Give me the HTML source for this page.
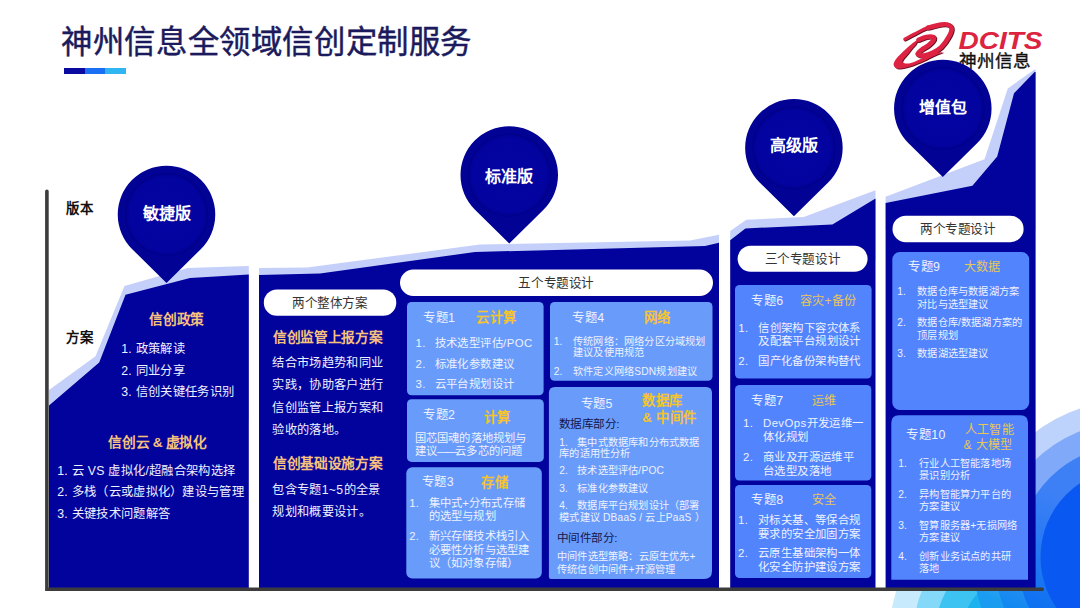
<!DOCTYPE html>
<html lang="zh-CN">
<head>
<meta charset="utf-8">
<title>神州信息全领域信创定制服务</title>
<style>
html,body{margin:0;padding:0;background:#fff;}
body{width:1080px;height:608px;position:relative;overflow:hidden;font-family:"Liberation Sans",sans-serif;}
.t{position:absolute;white-space:nowrap;margin:0;padding:0;}
</style>
</head>
<body>
<svg width="1080" height="608" viewBox="0 0 1080 608" style="position:absolute;left:0;top:0">
<defs>
<radialGradient id="pg" cx="50%" cy="50%" r="50%"><stop offset="0" stop-color="#0404a2"/><stop offset="0.9" stop-color="#0303a0"/><stop offset="1" stop-color="#020298"/></radialGradient>
</defs>
<circle cx="1016" cy="630" r="126" fill="#c7ebfc"/>
<circle cx="1016" cy="630" r="102" fill="#84d9f8"/>
<circle cx="1016" cy="630" r="80" fill="#3cc3f2"/>
<circle cx="1016" cy="630" r="53" fill="#1cb2f0"/>
<linearGradient id="rg0" gradientUnits="userSpaceOnUse" x1="1062" y1="440" x2="995" y2="600"><stop offset="0" stop-color="#bdd3fb"/><stop offset="0.3" stop-color="#bdd3fb"/><stop offset="1" stop-color="#1a9cf0"/></linearGradient>
<circle cx="1129.1" cy="557" r="156.3" fill="url(#rg0)"/>
<linearGradient id="rg1" gradientUnits="userSpaceOnUse" x1="1062" y1="440" x2="995" y2="600"><stop offset="0" stop-color="#80aaf9"/><stop offset="0.3" stop-color="#80aaf9"/><stop offset="1" stop-color="#1088f0"/></linearGradient>
<circle cx="1129.1" cy="557" r="135" fill="url(#rg1)"/>
<linearGradient id="rg2" gradientUnits="userSpaceOnUse" x1="1062" y1="440" x2="995" y2="600"><stop offset="0" stop-color="#3d80f6"/><stop offset="0.3" stop-color="#3d80f6"/><stop offset="1" stop-color="#0a70f0"/></linearGradient>
<circle cx="1129.1" cy="557" r="112.1" fill="url(#rg2)"/>
<circle cx="1129.1" cy="557" r="88.6" fill="#0a58f2"/>
<path fill="#c4d0fa" d="M49,390 L95.5,356.3 L124.5,286 L187.5,268 L248.8,266 L248.8,420 L49,420 Z"/>
<path fill="#02029c" d="M49,405.6 L99.2,362.5 L125.5,294.7 L190,278 L248.8,274.4 L248.8,588 L49,588 Z"/>
<path fill="#c4d0fa" d="M259,268 L307,267.5 L480,244.5 L690,240.5 L719,234.8 L719,300 L259,300 Z"/>
<path fill="#02029c" d="M259,275 L320,273.5 L475,252 L705,246 L719,242.8 L719,588 L259,588 Z"/>
<path fill="#c4d0fa" d="M730.2,231 L746.3,219.8 L803.7,217 L875.5,190.2 L875.5,260 L730.2,260 Z"/>
<path fill="#02029c" d="M730.2,240.2 L745.4,228.5 L832.4,224.4 L875.5,198.5 L875.5,588 L730.2,588 Z"/>
<path fill="#c4d0fa" d="M885.6,196.8 L984.5,159.3 L1007.8,88.4 L1034.6,69.4 L1035.6,69.4 L1035.6,230 L885.6,230 Z"/>
<path fill="#02029c" d="M885.6,203 L972.4,185.8 L997.2,156.5 L1014,93.3 L1034.6,72 L1035.6,72 L1035.6,588 L885.6,588 Z"/>
<path d="M46.9,191.2 L46.9,589.2 L1042.2,589.2" fill="none" stroke="#3c3c3c" stroke-width="3.6" stroke-linecap="round" stroke-linejoin="miter"/>
<rect x="263.8" y="289.5" width="132.50" height="26.30" rx="13.15" fill="#fff"/>
<rect x="400" y="269.5" width="313.00" height="26.50" rx="13.25" fill="#fff"/>
<rect x="737.6" y="245.8" width="130.00" height="25.90" rx="12.95" fill="#fff"/>
<rect x="892.5" y="215.7" width="131.10" height="26.50" rx="13.25" fill="#fff"/>
<rect x="407" y="302" width="136.60" height="93.30" rx="4.5" fill="#699cfa"/>
<rect x="407" y="399.3" width="136.80" height="62.60" rx="4.5" fill="#699cfa"/>
<rect x="406.3" y="467.3" width="135.50" height="111.20" rx="6" fill="#699cfa"/>
<rect x="550" y="302" width="162.50" height="78.80" rx="4.5" fill="#699cfa"/>
<path d="M548.9,576.9 L548.9,393 Q548.9,387 554.9,387 L706,387 Q712,387 712,393 L712,570.9 Q712,578.9 704,578.9 L550.9,578.9 Q548.9,578.9 548.9,576.9 Z" fill="#699cfa"/>
<rect x="735" y="285" width="136.60" height="93.50" rx="4.5" fill="#5284fd"/>
<rect x="735" y="385" width="136.30" height="95.50" rx="4.5" fill="#5284fd"/>
<rect x="735" y="485" width="136.30" height="93.00" rx="4.5" fill="#5284fd"/>
<rect x="892.3" y="252" width="136.90" height="158.00" rx="7.5" fill="#5284fd"/>
<path d="M891.3,579.7 L891.3,422.8 Q891.3,415.3 898.8,415.3 L1020.5,415.3 Q1028,415.3 1028,422.8 L1028,579.7 Z" fill="#5284fd"/>
<g transform="translate(0.8,0.7)" fill="none" stroke="#5e0f20" stroke-linecap="round" stroke-linejoin="round"><path d="M918.50,39.90 C919.63,39.47 923.05,37.83 925.30,37.30 C927.55,36.77 930.55,36.38 932.00,36.70 C933.45,37.02 934.57,37.77 934.00,39.20 C933.43,40.63 930.57,43.62 928.60,45.30 C926.63,46.98 924.03,47.85 922.20,49.30 C920.37,50.75 917.38,52.95 917.60,54.00 C917.82,55.05 921.03,55.80 923.50,55.60 C925.97,55.40 929.43,54.22 932.40,52.80 C935.37,51.38 938.50,49.87 941.30,47.10 C944.10,44.33 947.48,39.35 949.20,36.20 C950.92,33.05 951.88,30.13 951.60,28.20 C951.32,26.27 949.22,25.20 947.50,24.60 C945.78,24.00 944.55,24.10 941.30,24.60 C938.05,25.10 930.22,27.10 928.00,27.60" stroke-width="4.7"/><path d="M941.30,24.60 C939.08,25.10 932.45,26.03 928.00,27.60 C923.55,29.17 918.47,32.07 914.60,34.00 C910.73,35.93 906.43,38.33 904.80,39.20" stroke-width="3.2"/><path d="M918.30,39.00 C917.10,39.90 912.98,42.90 911.10,44.40 C909.22,45.90 908.65,46.48 907.00,48.00 C905.35,49.52 903.12,51.55 901.20,53.50 C899.28,55.45 896.75,57.75 895.50,59.70 C894.25,61.65 893.17,63.68 893.70,65.20 C894.23,66.72 895.95,68.57 898.70,68.80 C901.45,69.03 906.07,67.85 910.20,66.60 C914.33,65.35 919.50,63.07 923.50,61.30 C927.50,59.53 930.82,57.55 934.20,56.00 C937.58,54.45 942.20,52.67 943.80,52.00 " stroke="none"/></g><path transform="translate(0.8,0.7)" d="M918.30,39.00 C917.10,39.90 912.98,42.90 911.10,44.40 C909.22,45.90 908.65,46.48 907.00,48.00 C905.35,49.52 903.12,51.55 901.20,53.50 C899.28,55.45 896.75,57.75 895.50,59.70 C894.25,61.65 893.17,63.68 893.70,65.20 C894.23,66.72 895.95,68.57 898.70,68.80 C901.45,69.03 906.07,67.85 910.20,66.60 C914.33,65.35 919.50,63.07 923.50,61.30 C927.50,59.53 930.82,57.55 934.20,56.00 C937.58,54.45 942.20,52.67 943.80,52.00 L943.80,52.00 C942.20,52.23 937.58,52.43 934.20,53.40 C930.82,54.37 926.77,56.42 923.50,57.80 C920.23,59.18 917.27,60.73 914.60,61.70 C911.93,62.67 909.47,63.47 907.50,63.60 C905.53,63.73 903.50,63.18 902.80,62.50 C902.10,61.82 902.37,61.00 903.30,59.50 C904.23,58.00 906.88,55.35 908.40,53.50 C909.92,51.65 911.13,49.92 912.40,48.40 C913.67,46.88 915.02,45.97 916.00,44.40 C916.98,42.83 917.92,39.90 918.30,39.00 Z" fill="#5e0f20"/><g transform="translate(0,0)" fill="none" stroke="#de2342" stroke-linecap="round" stroke-linejoin="round"><path d="M918.50,39.90 C919.63,39.47 923.05,37.83 925.30,37.30 C927.55,36.77 930.55,36.38 932.00,36.70 C933.45,37.02 934.57,37.77 934.00,39.20 C933.43,40.63 930.57,43.62 928.60,45.30 C926.63,46.98 924.03,47.85 922.20,49.30 C920.37,50.75 917.38,52.95 917.60,54.00 C917.82,55.05 921.03,55.80 923.50,55.60 C925.97,55.40 929.43,54.22 932.40,52.80 C935.37,51.38 938.50,49.87 941.30,47.10 C944.10,44.33 947.48,39.35 949.20,36.20 C950.92,33.05 951.88,30.13 951.60,28.20 C951.32,26.27 949.22,25.20 947.50,24.60 C945.78,24.00 944.55,24.10 941.30,24.60 C938.05,25.10 930.22,27.10 928.00,27.60" stroke-width="4.7"/><path d="M941.30,24.60 C939.08,25.10 932.45,26.03 928.00,27.60 C923.55,29.17 918.47,32.07 914.60,34.00 C910.73,35.93 906.43,38.33 904.80,39.20" stroke-width="3.2"/><path d="M918.30,39.00 C917.10,39.90 912.98,42.90 911.10,44.40 C909.22,45.90 908.65,46.48 907.00,48.00 C905.35,49.52 903.12,51.55 901.20,53.50 C899.28,55.45 896.75,57.75 895.50,59.70 C894.25,61.65 893.17,63.68 893.70,65.20 C894.23,66.72 895.95,68.57 898.70,68.80 C901.45,69.03 906.07,67.85 910.20,66.60 C914.33,65.35 919.50,63.07 923.50,61.30 C927.50,59.53 930.82,57.55 934.20,56.00 C937.58,54.45 942.20,52.67 943.80,52.00 " stroke="none"/></g><path transform="translate(0,0)" d="M918.30,39.00 C917.10,39.90 912.98,42.90 911.10,44.40 C909.22,45.90 908.65,46.48 907.00,48.00 C905.35,49.52 903.12,51.55 901.20,53.50 C899.28,55.45 896.75,57.75 895.50,59.70 C894.25,61.65 893.17,63.68 893.70,65.20 C894.23,66.72 895.95,68.57 898.70,68.80 C901.45,69.03 906.07,67.85 910.20,66.60 C914.33,65.35 919.50,63.07 923.50,61.30 C927.50,59.53 930.82,57.55 934.20,56.00 C937.58,54.45 942.20,52.67 943.80,52.00 L943.80,52.00 C942.20,52.23 937.58,52.43 934.20,53.40 C930.82,54.37 926.77,56.42 923.50,57.80 C920.23,59.18 917.27,60.73 914.60,61.70 C911.93,62.67 909.47,63.47 907.50,63.60 C905.53,63.73 903.50,63.18 902.80,62.50 C902.10,61.82 902.37,61.00 903.30,59.50 C904.23,58.00 906.88,55.35 908.40,53.50 C909.92,51.65 911.13,49.92 912.40,48.40 C913.67,46.88 915.02,45.97 916.00,44.40 C916.98,42.83 917.92,39.90 918.30,39.00 Z" fill="#de2342"/>
<text x="958.5" y="48.6" font-family="Liberation Sans, sans-serif" font-size="24.5" font-weight="700" font-style="italic" fill="#dc2340" textLength="84" lengthAdjust="spacingAndGlyphs">DCITS</text>
<text x="958.8" y="66.8" font-family="Liberation Sans, sans-serif" font-size="17.6" fill="#111" stroke="#111" stroke-width="0.35">神州信息</text>
<path d="M132.25,249.19 A48.75,48.75 0 1 1 200.75,249.19 L166.5,283.0 Z" fill="#020294"/><circle cx="166.5" cy="214.5" r="41.5" fill="#01018b"/><circle cx="166.5" cy="214.5" r="40" fill="url(#pg)"/>
<path d="M475.00,209.69 A48.75,48.75 0 1 1 543.50,209.69 L509.25,243.5 Z" fill="#020294"/><circle cx="509.25" cy="175" r="41.5" fill="#01018b"/><circle cx="509.25" cy="175" r="40" fill="url(#pg)"/>
<path d="M759.65,182.49 A48.75,48.75 0 1 1 828.15,182.49 L793.9,216.3 Z" fill="#020294"/><circle cx="793.9" cy="147.8" r="41.5" fill="#01018b"/><circle cx="793.9" cy="147.8" r="40" fill="url(#pg)"/>
<path d="M908.55,143.29 A48.75,48.75 0 1 1 977.05,143.29 L942.8,177.1 Z" fill="#020294"/><circle cx="942.8" cy="108.6" r="41.5" fill="#01018b"/><circle cx="942.8" cy="108.6" r="40" fill="url(#pg)"/>
</svg>
<div class="t" style="left:61.2px;top:22.6px;font-size:31.4px;letter-spacing:0.6px;line-height:40px;color:#1b1a5c;-webkit-text-stroke:0.45px #1b1a5c">神州信息全领域信创定制服务</div>
<div style="position:absolute;left:63.7px;top:67.5px;width:62.6px;height:6.8px;background:linear-gradient(90deg,#0a0aa0 0,#0a0aa0 33.3%,#1a6ff2 33.3%,#1a6ff2 66.6%,#2fb6f2 66.6%)"></div>
<div class="t" style="top:200px;font-size:13.4px;line-height:17px;color:#111;letter-spacing:0.45px;font-weight:700;left:66.2px;">版本</div>
<div class="t" style="top:329px;font-size:13.4px;line-height:17px;color:#111;letter-spacing:0.45px;font-weight:700;left:66.2px;">方案</div>
<div class="t" style="top:203px;font-size:16px;line-height:21px;color:#fff;font-weight:700;left:16.5px;width:300px;text-align:center;">敏捷版</div>
<div class="t" style="top:166px;font-size:16px;line-height:21px;color:#fff;font-weight:700;left:359.3px;width:300px;text-align:center;">标准版</div>
<div class="t" style="top:135px;font-size:16px;line-height:21px;color:#fff;font-weight:700;left:643.9px;width:300px;text-align:center;">高级版</div>
<div class="t" style="top:97px;font-size:16px;line-height:21px;color:#fff;font-weight:700;left:793.0px;width:300px;text-align:center;">增值包</div>
<div class="t" style="top:311px;font-size:13.7px;line-height:18px;color:#f7c27e;letter-spacing:-0.35px;font-weight:700;left:26.73px;width:300px;text-align:center;">信创政策</div>
<div class="t" style="top:341px;font-size:12.3px;line-height:16px;color:#eef1ff;letter-spacing:0.3px;left:121.2px;">1. 政策解读</div>
<div class="t" style="top:363px;font-size:12.3px;line-height:16px;color:#eef1ff;letter-spacing:0.3px;left:121.2px;">2. 同业分享</div>
<div class="t" style="top:384px;font-size:12.3px;line-height:16px;color:#eef1ff;letter-spacing:0.3px;left:121.2px;">3. 信创关键任务识别</div>
<div class="t" style="top:434px;font-size:13.7px;line-height:18px;color:#f7c27e;letter-spacing:-0.35px;font-weight:700;left:7.63px;width:300px;text-align:center;">信创云 &amp; 虚拟化</div>
<div class="t" style="top:463px;font-size:12.3px;line-height:16px;color:#eef1ff;letter-spacing:0.3px;left:57.2px;">1. 云 VS 虚拟化/超融合架构选择</div>
<div class="t" style="top:484px;font-size:12.3px;line-height:16px;color:#eef1ff;letter-spacing:0.3px;left:57.2px;">2. 多栈（云或虚拟化）建设与管理</div>
<div class="t" style="top:506px;font-size:12.3px;line-height:16px;color:#eef1ff;letter-spacing:0.3px;left:57.2px;">3. 关键技术问题解答</div>
<div class="t" style="top:295px;font-size:12.6px;line-height:16px;color:#333;letter-spacing:-0.4px;left:179.8px;width:300px;text-align:center;">两个整体方案</div>
<div class="t" style="top:329px;font-size:13.7px;line-height:18px;color:#f7c27e;letter-spacing:-0.35px;font-weight:700;left:273.0px;">信创监管上报方案</div>
<div class="t" style="top:355px;font-size:12.2px;line-height:16px;color:#eef1ff;letter-spacing:0.38px;left:272.2px;">结合市场趋势和同业</div>
<div class="t" style="top:377px;font-size:12.2px;line-height:16px;color:#eef1ff;letter-spacing:0.38px;left:272.2px;">实践，协助客户进行</div>
<div class="t" style="top:400px;font-size:12.2px;line-height:16px;color:#eef1ff;letter-spacing:0.38px;left:272.2px;">信创监管上报方案和</div>
<div class="t" style="top:422px;font-size:12.2px;line-height:16px;color:#eef1ff;letter-spacing:0.38px;left:272.2px;">验收的落地。</div>
<div class="t" style="top:455px;font-size:13.7px;line-height:18px;color:#f7c27e;letter-spacing:-0.35px;font-weight:700;left:273.0px;">信创基础设施方案</div>
<div class="t" style="top:482px;font-size:12.2px;line-height:16px;color:#eef1ff;letter-spacing:0.38px;left:272.2px;">包含专题1~5的全景</div>
<div class="t" style="top:504px;font-size:12.2px;line-height:16px;color:#eef1ff;letter-spacing:0.38px;left:272.2px;">规划和概要设计。</div>
<div class="t" style="top:275px;font-size:12.6px;line-height:16px;color:#333;letter-spacing:-0.4px;left:406.3px;width:300px;text-align:center;">五个专题设计</div>
<div class="t" style="top:310px;font-size:12.4px;line-height:16px;color:#eef1ff;letter-spacing:0.5px;left:423.0px;">专题1</div>
<div class="t" style="top:309px;font-size:13.4px;line-height:17px;color:#f6c42c;letter-spacing:0.45px;font-weight:700;left:476.2px;">云计算</div>
<div class="t" style="top:336px;font-size:11.4px;line-height:15px;color:#eef1ff;letter-spacing:0.4px;left:415.5px;">1.</div>
<div class="t" style="top:336px;font-size:11.4px;line-height:15px;color:#eef1ff;letter-spacing:0.4px;left:434.7px;">技术选型评估/POC</div>
<div class="t" style="top:357px;font-size:11.4px;line-height:15px;color:#eef1ff;letter-spacing:0.4px;left:415.5px;">2.</div>
<div class="t" style="top:357px;font-size:11.4px;line-height:15px;color:#eef1ff;letter-spacing:0.4px;left:434.7px;">标准化参数建议</div>
<div class="t" style="top:377px;font-size:11.4px;line-height:15px;color:#eef1ff;letter-spacing:0.4px;left:415.5px;">3.</div>
<div class="t" style="top:377px;font-size:11.4px;line-height:15px;color:#eef1ff;letter-spacing:0.4px;left:434.7px;">云平台规划设计</div>
<div class="t" style="top:407px;font-size:12.4px;line-height:16px;color:#eef1ff;letter-spacing:0.5px;left:423.0px;">专题2</div>
<div class="t" style="top:409px;font-size:13.4px;line-height:17px;color:#f6c42c;letter-spacing:0.45px;font-weight:700;left:483.7px;">计算</div>
<div class="t" style="top:431px;font-size:11.3px;line-height:15px;color:#eef1ff;letter-spacing:0.2px;left:414.7px;">国芯国魂的落地规划与</div>
<div class="t" style="top:444px;font-size:11.3px;line-height:15px;color:#eef1ff;letter-spacing:0.2px;left:414.7px;">建议<span style="letter-spacing:-2.2px">——</span>云多芯的问题</div>
<div class="t" style="top:474px;font-size:12.4px;line-height:16px;color:#eef1ff;letter-spacing:0.5px;left:421.7px;">专题3</div>
<div class="t" style="top:474px;font-size:13.4px;line-height:17px;color:#f6c42c;letter-spacing:0.45px;font-weight:700;left:481.2px;">存储</div>
<div class="t" style="top:496px;font-size:11.3px;line-height:15px;color:#eef1ff;letter-spacing:0.2px;left:409.2px;">1.</div>
<div class="t" style="top:496px;font-size:11.3px;line-height:15px;color:#eef1ff;letter-spacing:0.2px;left:428.7px;">集中式+分布式存储</div>
<div class="t" style="top:509px;font-size:11.3px;line-height:15px;color:#eef1ff;letter-spacing:0.2px;left:428.7px;">的选型与规划</div>
<div class="t" style="top:529px;font-size:11.3px;line-height:15px;color:#eef1ff;letter-spacing:0.2px;left:409.2px;">2.</div>
<div class="t" style="top:529px;font-size:11.3px;line-height:15px;color:#eef1ff;letter-spacing:0.2px;left:428.7px;">新兴存储技术栈引入</div>
<div class="t" style="top:543px;font-size:11.3px;line-height:15px;color:#eef1ff;letter-spacing:0.2px;left:428.7px;">必要性分析与选型建</div>
<div class="t" style="top:556px;font-size:11.3px;line-height:15px;color:#eef1ff;letter-spacing:0.2px;left:428.7px;">议（如对象存储）</div>
<div class="t" style="top:310px;font-size:12.4px;line-height:16px;color:#eef1ff;letter-spacing:0.5px;left:572.2px;">专题4</div>
<div class="t" style="top:309px;font-size:13.4px;line-height:17px;color:#f6c42c;letter-spacing:0.45px;font-weight:700;left:643.5px;">网络</div>
<div class="t" style="top:335px;font-size:10.2px;line-height:13px;color:#eef1ff;letter-spacing:0.2px;left:553.7px;">1.</div>
<div class="t" style="top:335px;font-size:10.2px;line-height:13px;color:#eef1ff;letter-spacing:0.2px;left:573.0px;">传统网络：网络分区分域规划</div>
<div class="t" style="top:346px;font-size:10.2px;line-height:13px;color:#eef1ff;letter-spacing:0.2px;left:573.0px;">建议及使用规范</div>
<div class="t" style="top:365px;font-size:10.2px;line-height:13px;color:#eef1ff;letter-spacing:0.2px;left:553.7px;">2.</div>
<div class="t" style="top:365px;font-size:10.2px;line-height:13px;color:#eef1ff;letter-spacing:0.2px;left:573.0px;">软件定义网络SDN规划建议</div>
<div class="t" style="top:396px;font-size:12.4px;line-height:16px;color:#eef1ff;letter-spacing:0.5px;left:580.5px;">专题5</div>
<div class="t" style="top:392px;font-size:13.4px;line-height:17px;color:#f6c42c;letter-spacing:0.45px;font-weight:700;left:642.2px;">数据库</div>
<div class="t" style="top:409px;font-size:13.4px;line-height:17px;color:#f6c42c;letter-spacing:0.45px;font-weight:700;left:642.2px;">&amp; 中间件</div>
<div class="t" style="top:416px;font-size:11.6px;line-height:15px;color:#15154a;letter-spacing:-0.5px;left:558.7px;">数据库部分:</div>
<div class="t" style="top:436px;font-size:10.2px;line-height:13px;color:#eef1ff;letter-spacing:0.2px;left:559.2px;">1.&nbsp;&nbsp;&nbsp;集中式数据库和分布式数据</div>
<div class="t" style="top:447px;font-size:10.2px;line-height:13px;color:#eef1ff;letter-spacing:0.2px;left:559.2px;">库的适用性分析</div>
<div class="t" style="top:464px;font-size:10.2px;line-height:13px;color:#eef1ff;letter-spacing:0.2px;left:559.2px;">2.&nbsp;&nbsp;&nbsp;技术选型评估/POC</div>
<div class="t" style="top:482px;font-size:10.2px;line-height:13px;color:#eef1ff;letter-spacing:0.2px;left:559.2px;">3.&nbsp;&nbsp;&nbsp;标准化参数建议</div>
<div class="t" style="top:499px;font-size:10.2px;line-height:13px;color:#eef1ff;letter-spacing:0.2px;left:559.2px;">4.&nbsp;&nbsp;&nbsp;数据库平台规划设计（部署</div>
<div class="t" style="top:511px;font-size:10.2px;line-height:13px;color:#eef1ff;letter-spacing:0.2px;left:559.2px;">模式建议 DBaaS / 云上PaaS ）</div>
<div class="t" style="top:530px;font-size:11.6px;line-height:15px;color:#15154a;letter-spacing:-0.5px;left:556.7px;">中间件部分:</div>
<div class="t" style="top:550px;font-size:10.2px;line-height:13px;color:#eef1ff;letter-spacing:0.2px;left:557.0px;">中间件选型策略：云原生优先+</div>
<div class="t" style="top:563px;font-size:10.2px;line-height:13px;color:#eef1ff;letter-spacing:0.2px;left:557.0px;">传统信创中间件+开源管理</div>
<div class="t" style="top:251px;font-size:12.6px;line-height:16px;color:#333;letter-spacing:-0.4px;left:652.4px;width:300px;text-align:center;">三个专题设计</div>
<div class="t" style="top:293px;font-size:12.4px;line-height:16px;color:#eef1ff;letter-spacing:0.5px;left:751.2px;">专题6</div>
<div class="t" style="top:293px;font-size:12.1px;line-height:16px;color:#e9c659;letter-spacing:0.3px;left:800.0px;">容灾+备份</div>
<div class="t" style="top:321px;font-size:11.4px;line-height:15px;color:#eef1ff;letter-spacing:0.4px;left:738.2px;">1.</div>
<div class="t" style="top:321px;font-size:11.4px;line-height:15px;color:#eef1ff;letter-spacing:0.4px;left:758.2px;">信创架构下容灾体系</div>
<div class="t" style="top:334px;font-size:11.4px;line-height:15px;color:#eef1ff;letter-spacing:0.4px;left:758.2px;">及配套平台规划设计</div>
<div class="t" style="top:354px;font-size:11.4px;line-height:15px;color:#eef1ff;letter-spacing:0.4px;left:738.2px;">2.</div>
<div class="t" style="top:354px;font-size:11.4px;line-height:15px;color:#eef1ff;letter-spacing:0.4px;left:758.2px;">国产化备份架构替代</div>
<div class="t" style="top:393px;font-size:12.4px;line-height:16px;color:#eef1ff;letter-spacing:0.5px;left:751.2px;">专题7</div>
<div class="t" style="top:393px;font-size:12.1px;line-height:16px;color:#e9c659;letter-spacing:0.3px;left:811.8px;">运维</div>
<div class="t" style="top:416px;font-size:11.4px;line-height:15px;color:#eef1ff;letter-spacing:0.4px;left:743.0px;">1.</div>
<div class="t" style="top:416px;font-size:11.4px;line-height:15px;color:#eef1ff;letter-spacing:0.4px;left:763.0px;">DevOps开发运维一</div>
<div class="t" style="top:430px;font-size:11.4px;line-height:15px;color:#eef1ff;letter-spacing:0.4px;left:763.0px;">体化规划</div>
<div class="t" style="top:450px;font-size:11.4px;line-height:15px;color:#eef1ff;letter-spacing:0.4px;left:743.0px;">2.</div>
<div class="t" style="top:450px;font-size:11.4px;line-height:15px;color:#eef1ff;letter-spacing:0.4px;left:763.0px;">商业及开源运维平</div>
<div class="t" style="top:464px;font-size:11.4px;line-height:15px;color:#eef1ff;letter-spacing:0.4px;left:763.0px;">台选型及落地</div>
<div class="t" style="top:492px;font-size:12.4px;line-height:16px;color:#eef1ff;letter-spacing:0.5px;left:751.2px;">专题8</div>
<div class="t" style="top:492px;font-size:12.1px;line-height:16px;color:#e9c659;letter-spacing:0.3px;left:811.8px;">安全</div>
<div class="t" style="top:513px;font-size:11.4px;line-height:15px;color:#eef1ff;letter-spacing:0.4px;left:738.0px;">1.</div>
<div class="t" style="top:513px;font-size:11.4px;line-height:15px;color:#eef1ff;letter-spacing:0.4px;left:758.0px;">对标关基、等保合规</div>
<div class="t" style="top:527px;font-size:11.4px;line-height:15px;color:#eef1ff;letter-spacing:0.4px;left:758.0px;">要求的安全加固方案</div>
<div class="t" style="top:546px;font-size:11.4px;line-height:15px;color:#eef1ff;letter-spacing:0.4px;left:738.0px;">2.</div>
<div class="t" style="top:546px;font-size:11.4px;line-height:15px;color:#eef1ff;letter-spacing:0.4px;left:758.0px;">云原生基础架构一体</div>
<div class="t" style="top:560px;font-size:11.4px;line-height:15px;color:#eef1ff;letter-spacing:0.4px;left:758.0px;">化安全防护建设方案</div>
<div class="t" style="top:221px;font-size:12.6px;line-height:16px;color:#333;letter-spacing:-0.4px;left:807.8px;width:300px;text-align:center;">两个专题设计</div>
<div class="t" style="top:259px;font-size:12.4px;line-height:16px;color:#eef1ff;letter-spacing:0.5px;left:908.0px;">专题9</div>
<div class="t" style="top:259px;font-size:12.1px;line-height:16px;color:#e9c659;letter-spacing:0.3px;left:963.5px;">大数据</div>
<div class="t" style="top:285px;font-size:10.2px;line-height:13px;color:#eef1ff;letter-spacing:0.2px;left:897.2px;">1.</div>
<div class="t" style="top:285px;font-size:10.2px;line-height:13px;color:#eef1ff;letter-spacing:0.2px;left:917.2px;">数据仓库与数据湖方案</div>
<div class="t" style="top:298px;font-size:10.2px;line-height:13px;color:#eef1ff;letter-spacing:0.2px;left:917.2px;">对比与选型建议</div>
<div class="t" style="top:316px;font-size:10.2px;line-height:13px;color:#eef1ff;letter-spacing:0.2px;left:897.2px;">2.</div>
<div class="t" style="top:316px;font-size:10.2px;line-height:13px;color:#eef1ff;letter-spacing:0.2px;left:917.2px;">数据仓库/数据湖方案的</div>
<div class="t" style="top:329px;font-size:10.2px;line-height:13px;color:#eef1ff;letter-spacing:0.2px;left:917.2px;">顶层规划</div>
<div class="t" style="top:347px;font-size:10.2px;line-height:13px;color:#eef1ff;letter-spacing:0.2px;left:897.2px;">3.</div>
<div class="t" style="top:347px;font-size:10.2px;line-height:13px;color:#eef1ff;letter-spacing:0.2px;left:917.2px;">数据湖选型建议</div>
<div class="t" style="top:427px;font-size:12.4px;line-height:16px;color:#eef1ff;letter-spacing:0.5px;left:906.2px;">专题10</div>
<div class="t" style="top:422px;font-size:12.1px;line-height:16px;color:#e9c659;letter-spacing:0.3px;left:964.7px;">人工智能</div>
<div class="t" style="top:437px;font-size:12.1px;line-height:16px;color:#e9c659;letter-spacing:0.3px;left:963.5px;">&amp; 大模型</div>
<div class="t" style="top:457px;font-size:10.2px;line-height:13px;color:#eef1ff;letter-spacing:0.2px;left:898.2px;">1.</div>
<div class="t" style="top:457px;font-size:10.2px;line-height:13px;color:#eef1ff;letter-spacing:0.2px;left:919.2px;">行业人工智能落地场</div>
<div class="t" style="top:469px;font-size:10.2px;line-height:13px;color:#eef1ff;letter-spacing:0.2px;left:919.2px;">景识别分析</div>
<div class="t" style="top:488px;font-size:10.2px;line-height:13px;color:#eef1ff;letter-spacing:0.2px;left:898.2px;">2.</div>
<div class="t" style="top:488px;font-size:10.2px;line-height:13px;color:#eef1ff;letter-spacing:0.2px;left:919.2px;">异构智能算力平台的</div>
<div class="t" style="top:500px;font-size:10.2px;line-height:13px;color:#eef1ff;letter-spacing:0.2px;left:919.2px;">方案建议</div>
<div class="t" style="top:519px;font-size:10.2px;line-height:13px;color:#eef1ff;letter-spacing:0.2px;left:898.2px;">3.</div>
<div class="t" style="top:519px;font-size:10.2px;line-height:13px;color:#eef1ff;letter-spacing:0.2px;left:919.2px;">智算服务器+无损网络</div>
<div class="t" style="top:531px;font-size:10.2px;line-height:13px;color:#eef1ff;letter-spacing:0.2px;left:919.2px;">方案建议</div>
<div class="t" style="top:550px;font-size:10.2px;line-height:13px;color:#eef1ff;letter-spacing:0.2px;left:898.2px;">4.</div>
<div class="t" style="top:550px;font-size:10.2px;line-height:13px;color:#eef1ff;letter-spacing:0.2px;left:919.2px;">创新业务试点的共研</div>
<div class="t" style="top:562px;font-size:10.2px;line-height:13px;color:#eef1ff;letter-spacing:0.2px;left:919.2px;">落地</div>
</body>
</html>
